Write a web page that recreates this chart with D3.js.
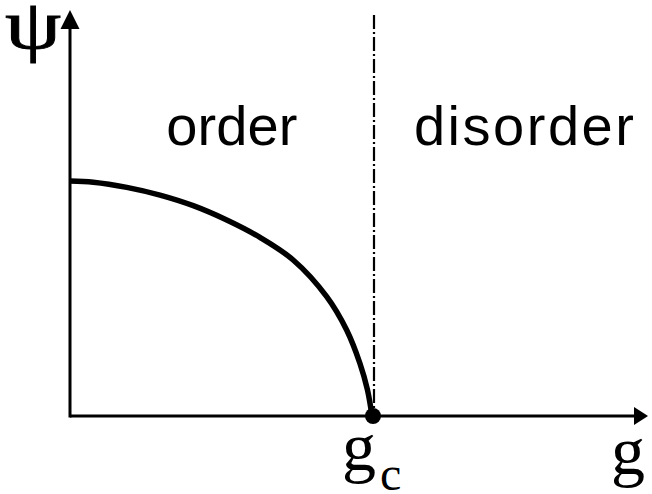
<!DOCTYPE html>
<html>
<head>
<meta charset="utf-8">
<script src="https://cdn.jsdelivr.net/npm/d3@7"></script>
<style>
  html, body { margin: 0; padding: 0; background: #fff; }
  svg { display: block; }
</style>
</head>
<body>
<svg id="chart" width="652" height="494"></svg>
<script>
// Order parameter psi versus coupling g (g_c = 1)
const gValues   = [0, 0.077, 0.188, 0.298, 0.408, 0.519, 0.629, 0.739, 0.850, 0.916, 0.960, 0.985, 1.0];
const psiValues = [1.0, 0.995, 0.973, 0.940, 0.895, 0.834, 0.760, 0.664, 0.508, 0.366, 0.224, 0.111, 0];

const gCritical = 1.0;
const gAxisMax = 1.914;
const psiAxisMax = 1.728;
const criticalLineTop = 1.706;

const regionLabels = ["order", "disorder"];
const regionCenters = [0.536, 1.503];   // g position of each region label
const regionLabelPsi = 1.153;
const yLabel = "ψ";
const xLabel = "g";
const criticalLabel = ["g", "c"];

const svg = d3.select("#chart");

const x = d3.scaleLinear().domain([0, 1]).range([70, 372]);
const y = d3.scaleLinear().domain([0, 1]).range([416, 181]);

// Axes with filled arrowheads
svg.append("line")
  .attr("x1", x(0)).attr("y1", y(0))
  .attr("x2", x(gAxisMax) - 10).attr("y2", y(0))
  .attr("stroke", "#000").attr("stroke-width", 3);
svg.append("line")
  .attr("x1", x(0)).attr("y1", y(0) + 1.5)
  .attr("x2", x(0)).attr("y2", y(psiAxisMax) + 15)
  .attr("stroke", "#000").attr("stroke-width", 3);

const xTip = [x(gAxisMax), y(0)];
svg.append("path")
  .attr("d", `M${xTip[0]},${xTip[1]} L${xTip[0] - 14},${xTip[1] - 9} L${xTip[0] - 14},${xTip[1] + 9} Z`)
  .attr("fill", "#000");
const yTip = [x(0), y(psiAxisMax)];
svg.append("path")
  .attr("d", `M${yTip[0]},${yTip[1]} L${yTip[0] - 9.5},${yTip[1] + 19} L${yTip[0] + 9.5},${yTip[1] + 19} Z`)
  .attr("fill", "#000");

// Critical point: dash-dot vertical line
svg.append("line")
  .attr("x1", x(gCritical) + 2).attr("y1", y(criticalLineTop))
  .attr("x2", x(gCritical) + 2).attr("y2", y(0))
  .attr("stroke", "#000").attr("stroke-width", 2.2)
  .attr("stroke-dasharray", "14,3,2,3");

// Order parameter curve
const pts = gValues.map((g, i) => [g, psiValues[i]]);
svg.append("path")
  .datum(pts)
  .attr("d", d3.line().x(d => x(d[0])).y(d => y(d[1])).curve(d3.curveCatmullRom.alpha(0.5)))
  .attr("fill", "none")
  .attr("stroke", "#000")
  .attr("stroke-width", 5.5);

svg.append("circle")
  .attr("cx", x(gCritical) + 1).attr("cy", y(0))
  .attr("r", 8)
  .attr("fill", "#000");

// Region labels
const regionWidths = [131, 220];
svg.selectAll("text.region")
  .data(regionLabels)
  .enter().append("text")
  .attr("class", "region")
  .attr("x", (d, i) => x(regionCenters[i]) - regionWidths[i] / 2)
  .attr("y", y(regionLabelPsi))
  .attr("textLength", (d, i) => regionWidths[i])
  .attr("lengthAdjust", "spacing")
  .attr("font-family", "'Liberation Sans', Arial, sans-serif")
  .attr("font-size", 56)
  .attr("fill", "#000")
  .text(d => d);

// Axis labels
svg.append("text")
  .attr("transform", "translate(33,48) scale(1.3,1)")
  .attr("text-anchor", "middle")
  .attr("font-family", "'Liberation Serif', 'Times New Roman', serif")
  .attr("font-size", 69)
  .attr("stroke", "#000").attr("stroke-width", 0.8)
  .text(yLabel);

svg.append("text")
  .attr("x", x(gAxisMax) - 20).attr("y", 474)
  .attr("text-anchor", "middle")
  .attr("font-family", "'Liberation Serif', 'Times New Roman', serif")
  .attr("font-size", 68)
  .text(xLabel);

const gc = svg.append("text")
  .attr("x", 342).attr("y", 470)
  .attr("font-family", "'Liberation Serif', 'Times New Roman', serif")
  .attr("font-size", 68);
gc.append("tspan").text(criticalLabel[0]);
gc.append("tspan").attr("dx", 4).attr("dy", 20).attr("font-size", 48).text(criticalLabel[1]);
</script>
</body>
</html>
